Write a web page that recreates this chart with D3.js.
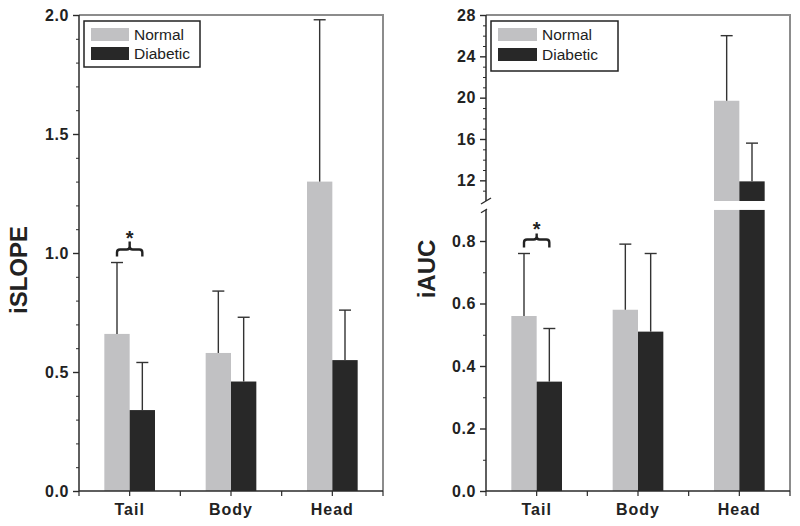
<!DOCTYPE html>
<html><head><meta charset="utf-8">
<script src="https://cdn.jsdelivr.net/npm/d3@7"></script>
<style>
body{margin:0;background:#fff;}
svg{display:block;font-family:"Liberation Sans",Arial,sans-serif;}
</style></head>
<body><svg id="c" width="800" height="526"></svg>
<script>
// ---------- data ----------
const categories = ["Tail", "Body", "Head"];
const seriesNames = ["Normal", "Diabetic"];
const slopeNormal = [0.66, 0.58, 1.30];
const slopeNormalErr = [0.30, 0.26, 0.68];
const slopeDiabetic = [0.34, 0.46, 0.55];
const slopeDiabeticErr = [0.20, 0.27, 0.21];
const aucNormal = [0.56, 0.58, 19.7];
const aucNormalErr = [0.20, 0.21, 6.3];
const aucDiabetic = [0.35, 0.51, 11.9];
const aucDiabeticErr = [0.17, 0.25, 3.7];
const slopeTicks = [0.0, 0.5, 1.0, 1.5, 2.0];
const aucTicksLow = [0.0, 0.2, 0.4, 0.6, 0.8];
const aucTicksHigh = [12, 16, 20, 24, 28];

const colors = {Normal: "#c1c1c3", Diabetic: "#282828"};
const axisColor = "#2a2a2a";
const frameColor = "#8c8c8c";

const svg = d3.select("#c");

function panel(opt) {
  const g = svg.append("g");
  const x = d3.scaleBand().domain(categories).range([opt.x0, opt.x1]).paddingInner(0.5).paddingOuter(0.25);
  const xs = d3.scaleBand().domain(seriesNames).range([0, x.bandwidth()]);
  const yBot = opt.yBot, yTop = opt.yTop;

  const yLo = opt.yLo, yHi = opt.yHi;
  const breakVal = yLo.domain()[1];
  const yFor = v => (yHi && v > breakVal) ? yHi(v) : yLo(v);

  // frame (top + right)
  g.append("path").attr("d", `M${opt.x0},${yTop}H${opt.x1}V${yBot}`)
    .attr("fill", "none").attr("stroke", frameColor).attr("stroke-width", 2);

  const data = [];
  categories.forEach((c, i) => {
    seriesNames.forEach((s, j) => {
      const vals = j === 0 ? opt.normal : opt.diabetic;
      const errs = j === 0 ? opt.normalErr : opt.diabeticErr;
      data.push({c, s, v: vals[i], e: errs[i]});
    });
  });

  data.forEach(d => {
    const bx = x(d.c) + xs(d.s), bw = xs.bandwidth();
    if (yHi && d.v > breakVal) {
      g.append("rect").attr("x", bx).attr("width", bw)
        .attr("y", yLo.range()[1]).attr("height", yLo(0) - yLo.range()[1]).attr("fill", colors[d.s]);
      g.append("rect").attr("x", bx).attr("width", bw)
        .attr("y", yHi(d.v)).attr("height", yHi.range()[0] - yHi(d.v)).attr("fill", colors[d.s]);
    } else {
      g.append("rect").attr("x", bx).attr("width", bw)
        .attr("y", yLo(d.v)).attr("height", yLo(0) - yLo(d.v)).attr("fill", colors[d.s]);
    }
    const cx = bx + bw / 2;
    const top = yFor(d.v + d.e);
    g.append("line").attr("x1", cx).attr("x2", cx).attr("y1", yFor(d.v)).attr("y2", top)
      .attr("stroke", "#333").attr("stroke-width", 1.4);
    g.append("line").attr("x1", cx - 6).attr("x2", cx + 6).attr("y1", top).attr("y2", top)
      .attr("stroke", "#333").attr("stroke-width", 1.4);
  });

  // y axis
  const axG = g.append("g").attr("transform", `translate(${opt.x0},0)`);
  const drawAxis = (scale, major, minor, fmt) => {
    const a = axG.append("g").call(d3.axisLeft(scale).tickValues(major).tickFormat(fmt).tickSize(6).tickPadding(4));
    a.select(".domain").remove();
    a.selectAll(".tick line").attr("stroke", axisColor).attr("stroke-width", 1.4);
    a.selectAll(".tick text").attr("fill", "#222").attr("font-size", 16).attr("font-weight", "bold")
      .attr("font-family", '"Liberation Sans",Arial,sans-serif').attr("letter-spacing", 0.6);
    const m = axG.append("g").call(d3.axisLeft(scale).tickValues(minor).tickFormat("").tickSize(3));
    m.select(".domain").remove();
    m.selectAll(".tick line").attr("stroke", axisColor).attr("stroke-width", 1);
  };
  drawAxis(yLo, opt.ticksLow, opt.minorLow, opt.fmtLow);
  if (yHi) {
    drawAxis(yHi, opt.ticksHigh, opt.minorHigh, opt.fmtHigh);
    axG.append("line").attr("x1", 0).attr("x2", 0).attr("y1", yHi.range()[1]).attr("y2", yHi.range()[0])
      .attr("stroke", axisColor).attr("stroke-width", 1.5);
    axG.append("line").attr("x1", 0).attr("x2", 0).attr("y1", yLo.range()[1]).attr("y2", yLo.range()[0])
      .attr("stroke", axisColor).attr("stroke-width", 1.5);
    const gy0 = yHi.range()[0], gy1 = yLo.range()[1];
    [gy0, gy1].forEach(yy => {
      axG.append("line").attr("x1", -5).attr("x2", 5).attr("y1", yy + 3).attr("y2", yy - 3)
        .attr("stroke", axisColor).attr("stroke-width", 1.4);
    });
    g.append("rect").attr("x", opt.x0 + 1).attr("width", opt.x1 - opt.x0 - 2)
      .attr("y", gy0).attr("height", gy1 - gy0).attr("fill", "#fff");
  } else {
    axG.append("line").attr("x1", 0).attr("x2", 0).attr("y1", yTop).attr("y2", yBot)
      .attr("stroke", axisColor).attr("stroke-width", 1.5);
  }

  // x axis
  const step = x.step();
  const xt = [];
  categories.forEach(c => { xt.push(x(c) + x.bandwidth() / 2 - step / 2); xt.push(x(c) + x.bandwidth() / 2); });
  xt.push(opt.x1);
  const xa = g.append("g");
  xa.append("line").attr("x1", opt.x0).attr("x2", opt.x1).attr("y1", yBot).attr("y2", yBot)
    .attr("stroke", axisColor).attr("stroke-width", 1.5);
  xt.forEach(t => xa.append("line").attr("x1", t).attr("x2", t).attr("y1", yBot).attr("y2", yBot + 5)
    .attr("stroke", axisColor).attr("stroke-width", 1.2));
  categories.forEach(c => {
    xa.append("text").attr("x", x(c) + x.bandwidth() / 2).attr("y", yBot + 24)
      .attr("text-anchor", "middle").attr("font-size", 16).attr("font-weight", "bold")
      .attr("letter-spacing", 1).attr("fill", "#222").text(c);
  });

  // y label
  g.append("text").attr("transform", `translate(${opt.labelX},${opt.labelY}) rotate(-90)`)
    .attr("text-anchor", "middle").attr("font-size", 24).attr("font-weight", "bold")
    .attr("fill", "#222").text(opt.label);

  // legend
  const L = opt.legend;
  const lg = g.append("g");
  lg.append("rect").attr("x", L.x).attr("y", L.y).attr("width", L.w).attr("height", L.h)
    .attr("fill", "#fff").attr("stroke", "#222").attr("stroke-width", 1.5);
  seriesNames.forEach((s, i) => {
    lg.append("rect").attr("x", L.x + 7).attr("y", L.y + 7 + i * L.row).attr("width", L.sw).attr("height", 13)
      .attr("fill", colors[s]);
    lg.append("text").attr("x", L.x + 12 + L.sw).attr("y", L.y + 19 + i * L.row)
      .attr("font-size", 15.5).attr("fill", "#222").text(s);
  });

  // significance bracket on Tail
  const c0 = categories[0];
  const xA = x(c0) + xs(seriesNames[0]) + xs.bandwidth() / 2;
  const xB = x(c0) + xs(seriesNames[1]) + xs.bandwidth() / 2;
  const capY = d3.min([yFor(opt.normal[0] + opt.normalErr[0]), yFor(opt.diabetic[0] + opt.diabeticErr[0])]);
  const ye = capY - opt.br[0], yh = capY - opt.br[1], ys = capY - opt.br[2];
  const xm = (xA + xB) / 2;
  g.append("path")
    .attr("d", `M${xA},${ye}V${yh + 3}Q${xA},${yh} ${xA + 3},${yh}H${xm - 3}Q${xm},${yh} ${xm},${yh - 3}V${ys}` +
      `M${xm},${yh - 3}Q${xm},${yh} ${xm + 3},${yh}H${xB - 3}Q${xB},${yh} ${xB},${yh + 3}V${ye}`)
    .attr("fill", "none").attr("stroke", "#222").attr("stroke-width", 2.4);
  g.append("text").attr("x", xm).attr("y", ys + opt.br[3]).attr("text-anchor", "middle")
    .attr("font-size", 20).attr("font-weight", "bold").attr("fill", "#222").text("*");
}

// left panel
panel({
  x0: 79, x1: 383, yTop: 15, yBot: 491,
  yLo: d3.scaleLinear().domain([0, 2.0]).range([491, 15]), yHi: null,
  ticksLow: slopeTicks, minorLow: d3.range(1, 20).map(i => i / 10).filter(v => Math.abs(v * 2 - Math.round(v * 2)) > 1e-6),
  fmtLow: d3.format(".1f"),
  normal: slopeNormal, normalErr: slopeNormalErr, diabetic: slopeDiabetic, diabeticErr: slopeDiabeticErr,
  label: "iSLOPE", labelX: 27, labelY: 270,
  legend: {x: 84, y: 21, w: 116, h: 46, sw: 38, row: 19},
  br: [6, 13, 21, 3]
});

// right panel (broken axis)
panel({
  x0: 486, x1: 790, yTop: 15, yBot: 491,
  yLo: d3.scaleLinear().domain([0, 0.9]).range([491, 209.75]),
  yHi: d3.scaleLinear().domain([10, 28]).range([201, 15]),
  ticksLow: aucTicksLow, minorLow: [0.1, 0.3, 0.5, 0.7],
  fmtLow: d3.format(".1f"),
  ticksHigh: aucTicksHigh, minorHigh: d3.range(11, 28).filter(v => v % 4 !== 0),
  fmtHigh: d3.format("d"),
  normal: aucNormal, normalErr: aucNormalErr, diabetic: aucDiabetic, diabeticErr: aucDiabeticErr,
  label: "iAUC", labelX: 435, labelY: 269,
  legend: {x: 491, y: 21, w: 127, h: 50, sw: 39, row: 20},
  br: [6, 14, 20, 2]
});
</script></body></html>
